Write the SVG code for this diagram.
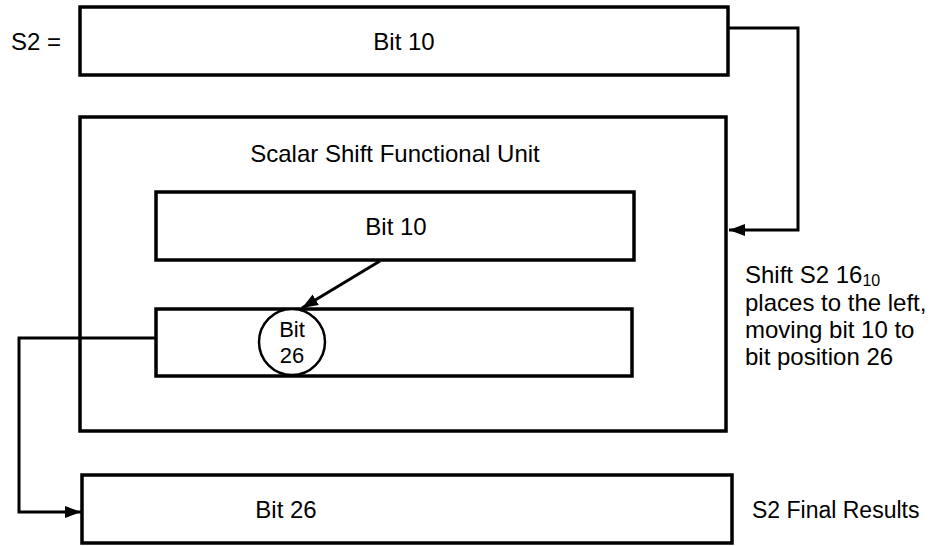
<svg xmlns="http://www.w3.org/2000/svg" width="935" height="546" viewBox="0 0 935 546">
<style>
.box{fill:none;stroke:#000;stroke-width:3.5}
.line{fill:none;stroke:#000;stroke-width:3}
text{font-family:"Liberation Sans",Arial,sans-serif;font-size:24px;fill:#000}
.c{text-anchor:middle}
.small{font-size:22px}
</style>
<defs>
<marker id="ah" markerUnits="userSpaceOnUse" markerWidth="18" markerHeight="14" refX="16" refY="6" orient="auto">
<path d="M0,0 L16,6 L0,12 z" fill="#000"/>
</marker>
</defs>
<rect width="935" height="546" fill="#fff"/>
<g id="s2-label"><text x="11" y="50">S2 =</text></g>
<g id="s2-register">
<rect class="box" x="80" y="7" width="648" height="68"/>
<text class="c" x="404" y="50">Bit 10</text>
</g>
<g id="shift-unit">
<rect class="box" x="80" y="117" width="646" height="314"/>
<text class="c" x="395" y="162">Scalar Shift Functional Unit</text>
</g>
<g id="inner-bit10">
<rect class="box" x="156" y="192" width="478" height="68"/>
<text class="c" x="396" y="235">Bit 10</text>
</g>
<g id="inner-bit26">
<rect class="box" x="156" y="309" width="476" height="67"/>
<circle cx="292" cy="342" r="33" fill="#fff" stroke="#000" stroke-width="2.5"/>
<text class="c small" x="292" y="337">Bit</text>
<text class="c small" x="292" y="363">26</text>
</g>
<g id="shift-note">
<text x="745" y="283">Shift S2 16<tspan style="font-size:16px" dy="3">10</tspan></text>
<text x="745" y="311">places to the left,</text>
<text x="745" y="338">moving bit 10 to</text>
<text x="745" y="365">bit position 26</text>
</g>
<g id="s2-final">
<rect class="box" x="82" y="475" width="650" height="68"/>
<text class="c" x="286" y="518">Bit 26</text>
<text x="752" y="518" style="font-size:23px">S2 Final Results</text>
</g>
<g id="connectors">
<path class="line" d="M728,28 H798 V230 H729" marker-end="url(#ah)"/>
<path class="line" d="M380,261 L302,308" marker-end="url(#ah)"/>
<path class="line" d="M156,338 H19 V512 H81" marker-end="url(#ah)"/>
</g>
</svg>
